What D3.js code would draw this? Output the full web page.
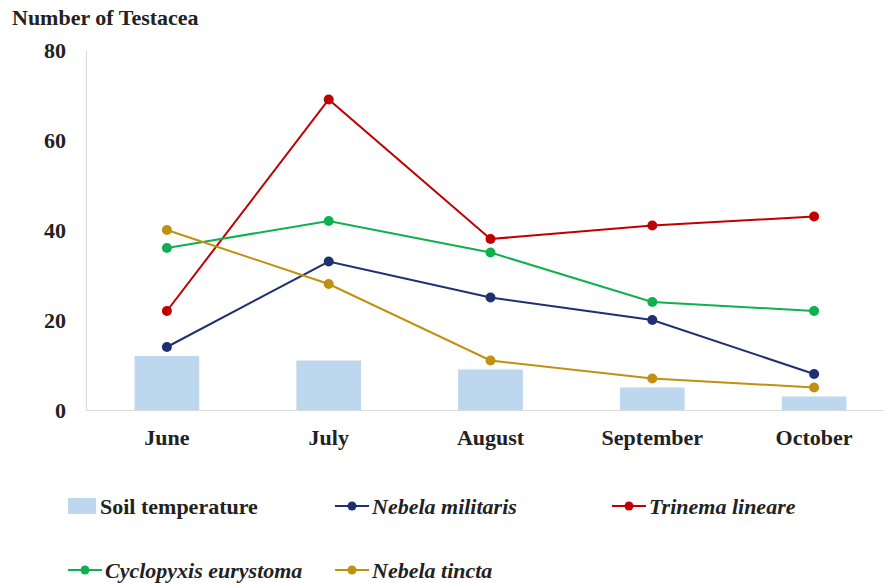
<!DOCTYPE html>
<html>
<head>
<meta charset="utf-8">
<script src="https://cdn.jsdelivr.net/npm/d3@7"></script>
<style>
    body { margin: 0; background: #fff; }
    svg { display: block; font-family: 'Liberation Serif', 'Times New Roman', serif; }
    .axis text { font-family: 'Liberation Serif', 'Times New Roman', serif; font-size: 22px; font-weight: bold; fill: #222; }
    .legend text { font-size: 22px; font-weight: bold; fill: #222; }
</style>
</head>
<body>
<svg id="mainFrame"></svg>
<script>
const months = ['June', 'July', 'August', 'September', 'October']
const soilTemperature = [12, 11, 9, 5, 3]
const nebelaMilitaris = [14, 33, 25, 20, 8]
const trinemaLineare = [22, 69, 38, 41, 43]
const cyclopyxisEurystoma = [36, 42, 35, 24, 22]
const nebelaTincta = [40, 28, 11, 7, 5]
const yTicks = [0, 20, 40, 60, 80]

const series = [
    { name: 'Nebela militaris', values: nebelaMilitaris, color: '#1f3070' },
    { name: 'Trinema lineare', values: trinemaLineare, color: '#c00000' },
    { name: 'Cyclopyxis eurystoma', values: cyclopyxisEurystoma, color: '#10b050' },
    { name: 'Nebela tincta', values: nebelaTincta, color: '#c09010' }
]

const width = 884, height = 583
const svg = d3.select('#mainFrame')
    .attr('width', width)
    .attr('height', height)

const margin = { top: 50, left: 86 }
const ourWidth = 809
const ourHeight = 360

const g = svg.append('g')
    .attr('transform', `translate(${margin.left},${margin.top})`)

const xScale = d3.scaleBand()
    .domain(months)
    .range([0, ourWidth])
    .paddingInner(0.6)
    .paddingOuter(0.3)

const xCenter = d => xScale(d) + xScale.bandwidth() / 2

const yScale = d3.scaleLinear()
    .domain([0, 80])
    .range([ourHeight, 0])

// y axis (no ticks, just labels + light line)
const yAxis = d3.axisLeft(yScale).tickValues(yTicks).tickSize(0).tickPadding(20)
g.append('g').attr('class', 'axis').call(yAxis)
    .call(s => s.select('.domain').attr('stroke', '#d9d9d9'))
    .selectAll('text').attr('dy', '0.35em')

// bars
g.selectAll('rect.bar').data(months)
    .join('rect')
    .attr('class', 'bar')
    .attr('x', d => xScale(d))
    .attr('width', xScale.bandwidth())
    .attr('y', (d, i) => yScale(soilTemperature[i]))
    .attr('height', (d, i) => ourHeight - yScale(soilTemperature[i]))
    .attr('fill', '#bdd7ee')

// x axis
const xAxis = d3.axisBottom(xScale).tickSize(0).tickPadding(19)
g.append('g')
    .attr('class', 'axis')
    .attr('transform', `translate(0,${ourHeight})`)
    .call(xAxis)
    .call(s => s.select('.domain').attr('stroke', '#d9d9d9'))

// lines
const line = d3.line()
    .x((d, i) => xCenter(months[i]))
    .y(d => yScale(d))

series.forEach(s => {
    g.append('path')
        .attr('d', line(s.values))
        .attr('fill', 'none')
        .attr('stroke', s.color)
        .attr('stroke-width', 2)
    g.selectAll(null).data(s.values)
        .join('circle')
        .attr('cx', (d, i) => xCenter(months[i]))
        .attr('cy', d => yScale(d))
        .attr('r', 5)
        .attr('fill', s.color)
})

// title
svg.append('text')
    .attr('x', 12)
    .attr('y', 25)
    .attr('font-size', 22)
    .attr('font-weight', 'bold')
    .attr('fill', '#222')
    .text('Number of Testacea')

// legend
const legendItems = [
    { name: 'Soil temperature', bar: true, x: 68, y: 506 },
    { name: series[0].name, s: series[0], x: 335, y: 506 },
    { name: series[1].name, s: series[1], x: 612, y: 506 },
    { name: series[2].name, s: series[2], x: 68, y: 570 },
    { name: series[3].name, s: series[3], x: 335, y: 570 }
]

const legend = svg.append('g').attr('class', 'legend')
legendItems.forEach(item => {
    const lg = legend.append('g').attr('transform', `translate(${item.x},${item.y})`)
    if (item.bar) {
        lg.append('rect')
            .attr('x', 0).attr('y', -8)
            .attr('width', 28).attr('height', 16)
            .attr('fill', '#bdd7ee')
    } else {
        lg.append('line')
            .attr('x1', 0).attr('x2', 34)
            .attr('stroke', item.s.color).attr('stroke-width', 2)
        lg.append('circle')
            .attr('cx', 17).attr('r', 4.5)
            .attr('fill', item.s.color)
    }
    lg.append('text')
        .attr('x', item.bar ? 32 : 37)
        .attr('dy', '0.35em')
        .attr('font-style', item.bar ? 'normal' : 'italic')
        .text(item.name)
})
</script>
</body>
</html>
